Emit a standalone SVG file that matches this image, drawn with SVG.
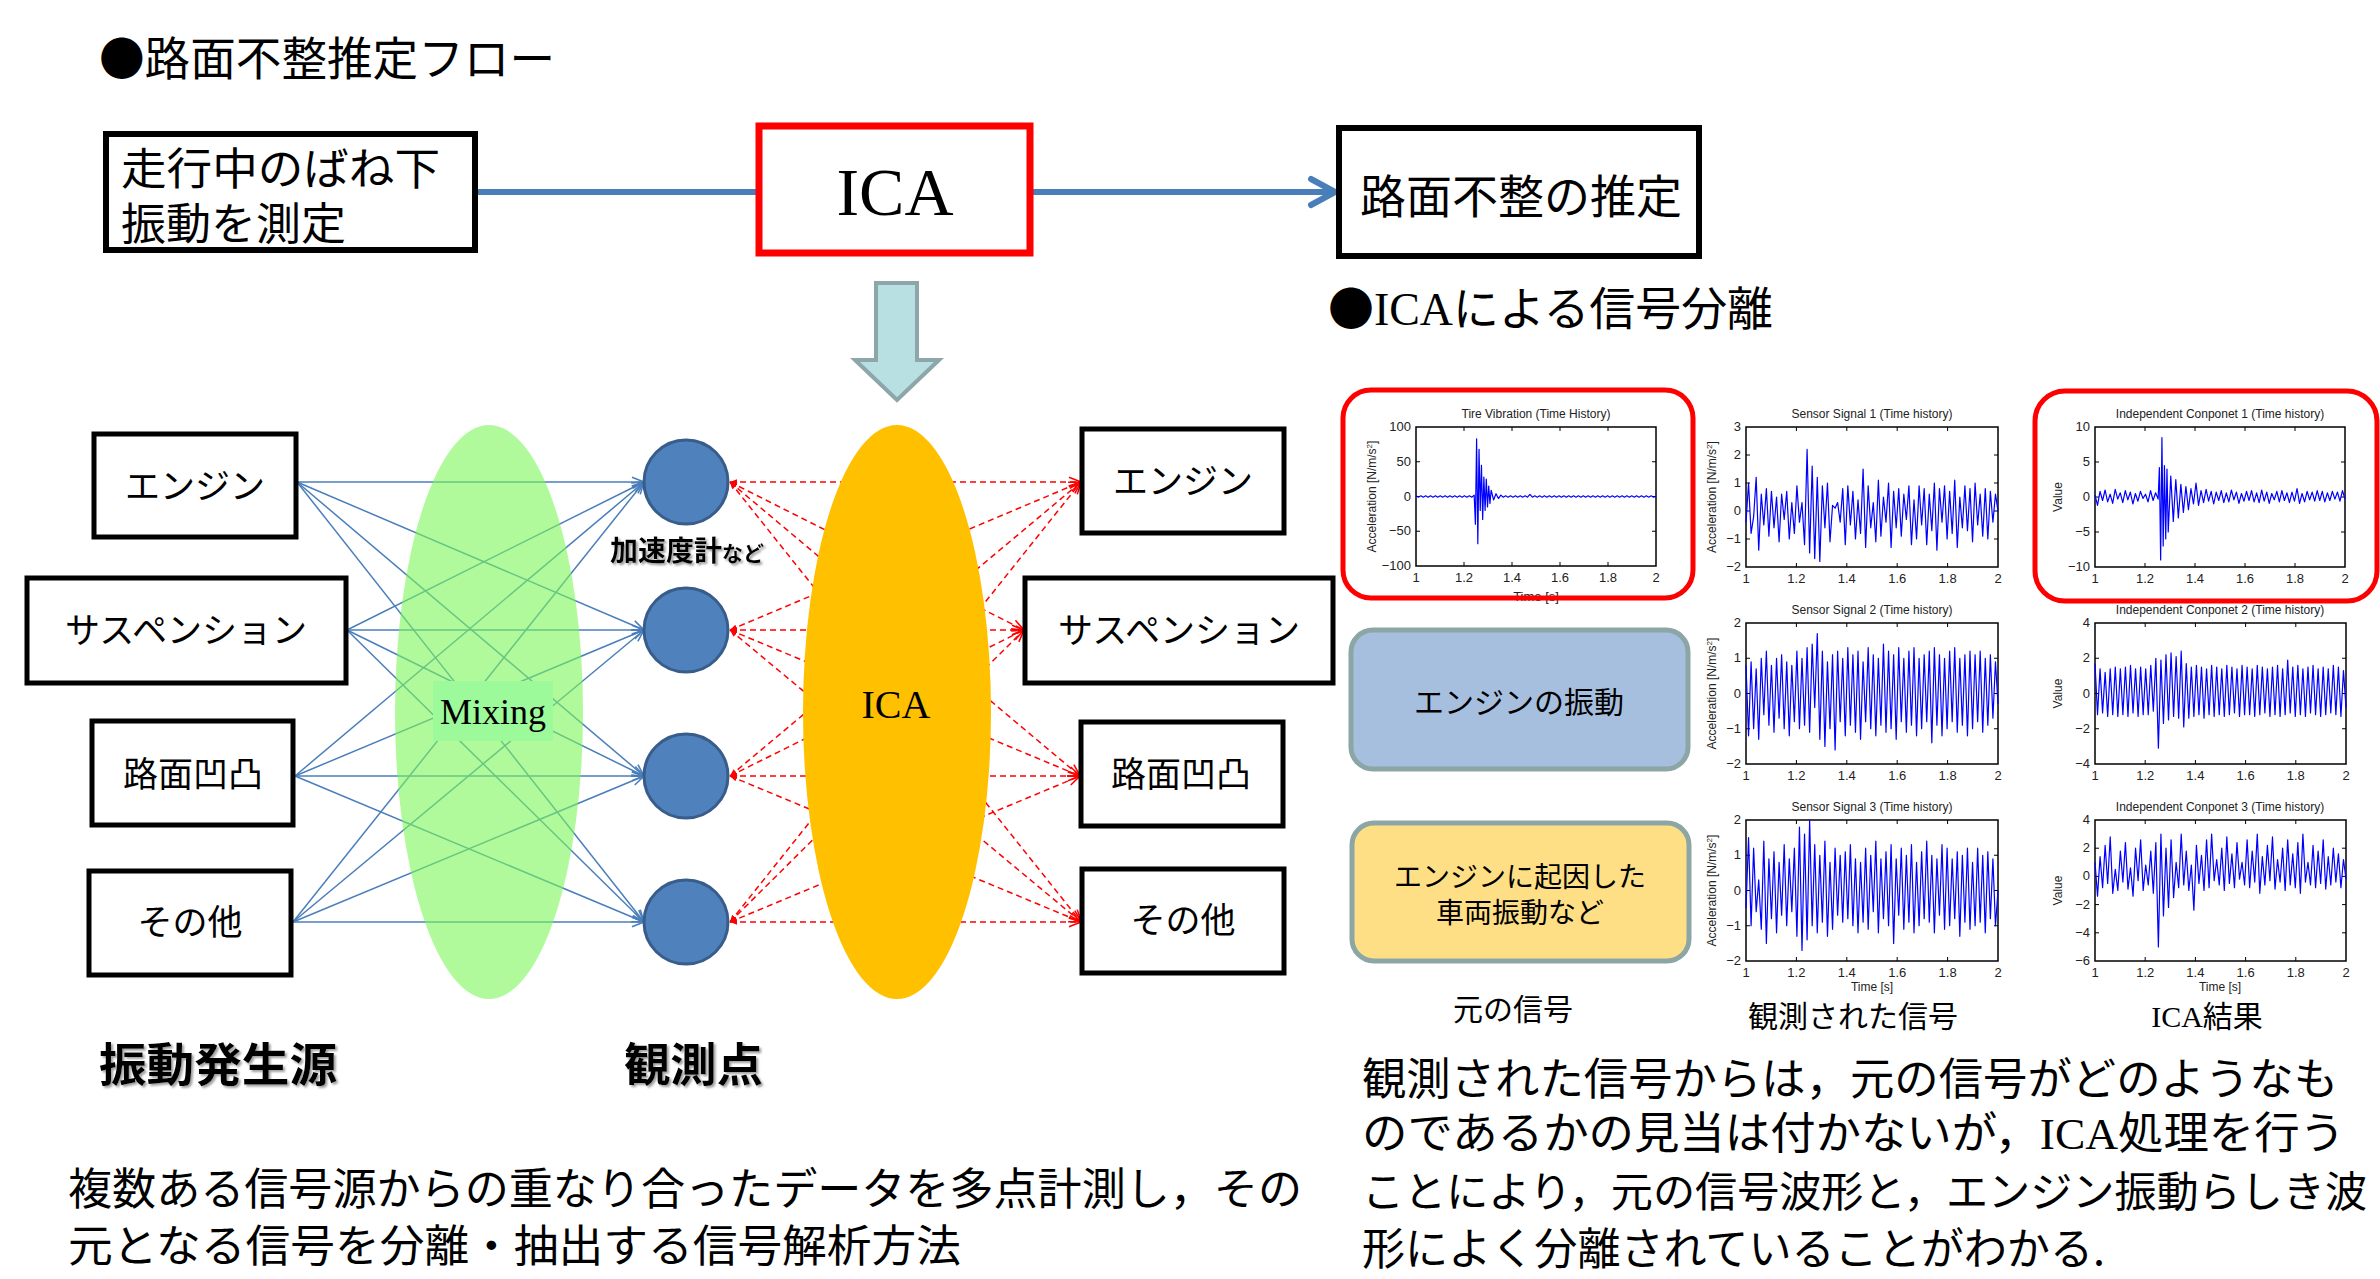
<svg xmlns="http://www.w3.org/2000/svg" width="2380" height="1279" viewBox="0 0 2380 1279">
<style>
.jp{font-family:"Noto Sans CJK JP","Noto Sans CJK SC",sans-serif;fill:#000}
.tm{font-family:"Liberation Serif",serif;fill:#000}
.pl{font-family:"Liberation Sans",sans-serif;font-size:12px;fill:#222}
.tl{font-size:13px}
.box{fill:#fff;stroke:#000;stroke-width:5}
.fbox{fill:#fff;stroke:#000;stroke-width:6}
.ax{fill:none;stroke:#000;stroke-width:1.5}
.tk{fill:none;stroke:#000;stroke-width:1}
.wv{fill:none;stroke:#0000FF;stroke-width:1.2;stroke-linejoin:round}
.bl{stroke:#4A7EBB;stroke-width:1.5;marker-end:url(#ab)}
.rd{stroke:#FF0000;stroke-width:1.5;stroke-dasharray:6 4;marker-end:url(#ar);marker-start:url(#rs)}
.mid{text-anchor:middle}
.end{text-anchor:end}
</style>
<defs>
<marker id="ab" viewBox="0 0 10 10" refX="10" refY="5" markerWidth="14" markerHeight="12" markerUnits="userSpaceOnUse" orient="auto"><path d="M0,1 L10,5 L0,9" fill="none" stroke="#4A7EBB" stroke-width="1.3"/></marker>
<marker id="ar" viewBox="0 0 10 10" refX="10" refY="5" markerWidth="14" markerHeight="12" markerUnits="userSpaceOnUse" orient="auto"><path d="M0,1 L10,5 L0,9" fill="none" stroke="#FF0000" stroke-width="1.3"/></marker>
<marker id="rs" viewBox="0 0 10 10" refX="10" refY="5" markerWidth="7" markerHeight="7" markerUnits="userSpaceOnUse" orient="auto-start-reverse"><path d="M0,1 L10,5 L0,9 z" fill="#FF0000"/></marker>
<filter id="sh" x="-10%" y="-20%" width="130%" height="150%"><feDropShadow dx="2" dy="2" stdDeviation="1.2" flood-color="#888" flood-opacity="0.8"/></filter>
</defs>
<rect width="2380" height="1279" fill="#fff"/>

<g id="title1"><text class="jp" x="99" y="75" font-size="46" textLength="456" lengthAdjust="spacingAndGlyphs">●路面不整推定フロー</text></g>

<g id="connectors">
<line x1="478" y1="192" x2="757" y2="192" stroke="#4A7EBB" stroke-width="6"/>
<line x1="1033" y1="192" x2="1333" y2="192" stroke="#4A7EBB" stroke-width="6"/>
<path d="M1311,179 L1335,192 L1311,205" fill="none" stroke="#4A7EBB" stroke-width="6" stroke-linecap="round" stroke-linejoin="round"/>
<g id="mix-lines">
<line class="bl" x1="297" y1="482" x2="644" y2="482"/><line class="bl" x1="297" y1="482" x2="644" y2="630"/><line class="bl" x1="297" y1="482" x2="644" y2="776"/><line class="bl" x1="297" y1="482" x2="644" y2="922"/>
<line class="bl" x1="347" y1="630" x2="644" y2="482"/><line class="bl" x1="347" y1="630" x2="644" y2="630"/><line class="bl" x1="347" y1="630" x2="644" y2="776"/><line class="bl" x1="347" y1="630" x2="644" y2="922"/>
<line class="bl" x1="295" y1="776" x2="644" y2="482"/><line class="bl" x1="295" y1="776" x2="644" y2="630"/><line class="bl" x1="295" y1="776" x2="644" y2="776"/><line class="bl" x1="295" y1="776" x2="644" y2="922"/>
<line class="bl" x1="293" y1="922" x2="644" y2="482"/><line class="bl" x1="293" y1="922" x2="644" y2="630"/><line class="bl" x1="293" y1="922" x2="644" y2="776"/><line class="bl" x1="293" y1="922" x2="644" y2="922"/>
</g>
<g id="ica-lines">
<line class="rd" x1="730" y1="482" x2="1081" y2="482"/><line class="rd" x1="730" y1="482" x2="1024" y2="630"/><line class="rd" x1="730" y1="482" x2="1080" y2="776"/><line class="rd" x1="730" y1="482" x2="1081" y2="922"/>
<line class="rd" x1="730" y1="630" x2="1081" y2="482"/><line class="rd" x1="730" y1="630" x2="1024" y2="630"/><line class="rd" x1="730" y1="630" x2="1080" y2="776"/><line class="rd" x1="730" y1="630" x2="1081" y2="922"/>
<line class="rd" x1="730" y1="776" x2="1081" y2="482"/><line class="rd" x1="730" y1="776" x2="1024" y2="630"/><line class="rd" x1="730" y1="776" x2="1080" y2="776"/><line class="rd" x1="730" y1="776" x2="1081" y2="922"/>
<line class="rd" x1="730" y1="922" x2="1081" y2="482"/><line class="rd" x1="730" y1="922" x2="1024" y2="630"/><line class="rd" x1="730" y1="922" x2="1080" y2="776"/><line class="rd" x1="730" y1="922" x2="1081" y2="922"/>
</g>
</g>

<g id="box-measure"><rect class="fbox" x="106" y="134" width="369" height="116"/>
<text class="jp" x="121" y="185" font-size="44" textLength="319" lengthAdjust="spacingAndGlyphs">走行中のばね下</text>
<text class="jp" x="121" y="240" font-size="44" textLength="225" lengthAdjust="spacingAndGlyphs">振動を測定</text></g>
<g id="box-ica"><rect x="759" y="126" width="271" height="127" fill="#fff" stroke="#FF0000" stroke-width="7"/>
<text class="tm mid" x="895" y="215" font-size="68">ICA</text></g>
<g id="box-estimate"><rect class="fbox" x="1339" y="128" width="360" height="128"/>
<text class="jp" x="1360" y="213" font-size="46" textLength="322" lengthAdjust="spacingAndGlyphs">路面不整の推定</text></g>
<g id="down-arrow"><path d="M876,283 H917 V360 H939 L897,400 L855,360 H876 Z" fill="#B8DFE2" stroke="#8CA6A9" stroke-width="4" stroke-linejoin="miter"/></g>

<g id="mixing"><ellipse cx="489" cy="712" rx="94" ry="287" fill="#7BF75A" fill-opacity="0.6"/>
<rect x="433" y="681" width="120" height="60" fill="#9CFA9A"/>
<text class="tm mid" x="493" y="724" font-size="36">Mixing</text></g>
<g id="ica-ellipse"><ellipse cx="897" cy="712" rx="94" ry="287" fill="#FFC000"/>
<text class="tm mid" x="896" y="718" font-size="40">ICA</text></g>

<g id="src-engine"><rect class="box" x="94" y="434" width="202" height="103"/><text class="jp mid" x="195" y="499" font-size="35">エンジン</text></g>
<g id="src-susp"><rect class="box" x="27" y="578" width="319" height="105"/><text class="jp mid" x="186" y="643" font-size="35">サスペンション</text></g>
<g id="src-road"><rect class="box" x="92" y="721" width="201" height="104"/><text class="jp mid" x="193" y="787" font-size="35">路面凹凸</text></g>
<g id="src-other"><rect class="box" x="89" y="871" width="202" height="104"/><text class="jp mid" x="190" y="935" font-size="35">その他</text></g>

<g id="sensors" fill="#4F81BD" stroke="#385D8A" stroke-width="3">
<circle cx="686" cy="482" r="42"/><circle cx="686" cy="630" r="42"/><circle cx="686" cy="776" r="42"/><circle cx="686" cy="922" r="42"/>
</g>
<g id="sensor-label" filter="url(#sh)"><text class="jp" x="610" y="561" font-weight="bold"><tspan font-size="28">加速度計</tspan><tspan font-size="21">など</tspan></text></g>

<g id="out-engine"><rect class="box" x="1082" y="429" width="202" height="104"/><text class="jp mid" x="1183" y="494" font-size="35">エンジン</text></g>
<g id="out-susp"><rect class="box" x="1025" y="578" width="308" height="105"/><text class="jp mid" x="1179" y="643" font-size="35">サスペンション</text></g>
<g id="out-road"><rect class="box" x="1081" y="722" width="202" height="104"/><text class="jp mid" x="1181" y="787" font-size="35">路面凹凸</text></g>
<g id="out-other"><rect class="box" x="1082" y="869" width="202" height="104"/><text class="jp mid" x="1183" y="933" font-size="35">その他</text></g>

<g id="labels-bottom" filter="url(#sh)">
<text class="jp" x="99" y="1081" font-size="46" font-weight="bold" textLength="238" lengthAdjust="spacingAndGlyphs">振動発生源</text>
<text class="jp" x="624" y="1081" font-size="46" font-weight="bold" textLength="139" lengthAdjust="spacingAndGlyphs">観測点</text>
</g>
<g id="desc-left">
<text class="jp" x="68" y="1205" font-size="44" textLength="1234" lengthAdjust="spacingAndGlyphs">複数ある信号源からの重なり合ったデータを多点計測し，その</text>
<text class="jp" x="68" y="1262" font-size="44" textLength="893" lengthAdjust="spacingAndGlyphs">元となる信号を分離・抽出する信号解析方法</text>
</g>

<g id="title2"><text class="jp" x="1328" y="325" font-size="46" textLength="445" lengthAdjust="spacingAndGlyphs">●<tspan class="tm">ICA</tspan>による信号分離</text></g>

<g id="plot-tire">
<text class="pl mid" x="1536" y="418">Tire Vibration (Time History)</text>
<rect class="ax" x="1416" y="427" width="240" height="139"/>
<path class="tk" d="M1464,427v4M1512,427v4M1560,427v4M1608,427v4M1464,566v-4M1512,566v-4M1560,566v-4M1608,566v-4M1416,461.75h4M1416,496.5h4M1416,531.25h4M1656,461.75h-4M1656,496.5h-4M1656,531.25h-4"/>
<g class="pl tl end"><text x="1411" y="431">100</text><text x="1411" y="466">50</text><text x="1411" y="501">0</text><text x="1411" y="535">−50</text><text x="1411" y="570">−100</text></g>
<g class="pl tl mid"><text x="1416" y="582">1</text><text x="1464" y="582">1.2</text><text x="1512" y="582">1.4</text><text x="1560" y="582">1.6</text><text x="1608" y="582">1.8</text><text x="1656" y="582">2</text><text x="1536" y="601">Time [s]</text></g>
<text class="pl mid" transform="translate(1376,496.5) rotate(-90)">Acceleration [N/m/s<tspan baseline-shift="super" font-size="8">2</tspan>]</text>
<path class="wv" vector-effect="non-scaling-stroke" transform="translate(1416,496.5) scale(2.4242,-0.695)" d="M0,1 L1,-1 2,1 3,-1 4,1 5,-1 6,1 7,-1 8,1 9,-1 10,1 11,-1 12,1 13,-1 14,1 15,-1 16,1 17,-1 18,1 19,-1 20,1 21,-1 22,1 23,-1 24,2 24.5,-40 25,83 25.5,-68 26,68 26.5,-20 27,45 27.5,-33 28,28 28.5,-20 29,25 29.5,-15 30,15 30.5,-10 31,9 32,-5 33,4 34,-3 35,2 36,-1 37,1 38,-1 39,1 40,-1 41,1 42,-1 43,1 44,-1 45,1 46,-1 47,3 48,-1 49,1 50,-1 51,1 52,-1 53,1 54,-1 55,1 56,-1 57,1 58,-1 59,1 60,-1 61,1 62,-1 63,1 64,-1 65,1 66,-1 67,1 68,-1 69,1 70,-1 71,1 72,-1 73,1 74,-1 75,1 76,-1 77,1 78,-1 79,1 80,-1 81,1 82,-1 83,1 84,-1 85,1 86,-1 87,1 88,-1 89,1 90,-1 91,1 92,-1 93,1 94,-1 95,1 96,-1 97,1 98,-1 99,0"/>
</g>

<g id="plot-s1">
<text class="pl mid" x="1872" y="418">Sensor Signal 1 (Time history)</text>
<rect class="ax" x="1746" y="427" width="252" height="140"/>
<path class="tk" d="M1796.4,427v4M1846.8,427v4M1897.2,427v4M1947.6,427v4M1796.4,567v-4M1846.8,567v-4M1897.2,567v-4M1947.6,567v-4M1746,455h4M1746,483h4M1746,511h4M1746,539h4M1998,455h-4M1998,483h-4M1998,511h-4M1998,539h-4"/>
<g class="pl tl end"><text x="1741" y="431">3</text><text x="1741" y="459">2</text><text x="1741" y="487">1</text><text x="1741" y="515">0</text><text x="1741" y="543">−1</text><text x="1741" y="571">−2</text></g>
<g class="pl tl mid"><text x="1746" y="583">1</text><text x="1796.4" y="583">1.2</text><text x="1846.8" y="583">1.4</text><text x="1897.2" y="583">1.6</text><text x="1947.6" y="583">1.8</text><text x="1998" y="583">2</text></g>
<text class="pl mid" transform="translate(1716,497) rotate(-90)">Acceleration [N/m/s<tspan baseline-shift="super" font-size="8">2</tspan>]</text>
<path class="wv" vector-effect="non-scaling-stroke" transform="translate(1746,511) scale(2.5455,-2.8)" d="M0,-4 L1,10 2,-8 3,-2 4,12 5,-14 6,6 7,-5 8,8 9,-9 10,7 11,-6 12,5 13,-11 14,6 15,-3 16,7 17,-10 18,3 19,-8 20,9 21,-4 22,3 23,-12 24,22 25,-15 26,16 27,-17 28,12 29,-18 30,9 31,-6 32,10 33,-11 34,2 35,1 36,3 37,-4 38,8 39,-12 40,9 41,-5 42,7 43,-10 44,4 45,-8 46,15 47,-13 48,9 49,-6 50,3 51,-11 52,11 53,-9 54,5 55,-4 56,10 57,-13 58,7 59,-6 60,8 61,-9 62,6 63,-3 64,9 65,-12 66,4 67,-10 68,9 69,-5 70,8 71,-12 72,6 73,-7 74,10 75,-14 76,8 77,-4 78,9 79,-10 80,7 81,-8 82,11 83,-13 84,5 85,-6 86,9 87,-7 88,8 89,-11 90,10 91,-5 92,6 93,-9 94,8 95,-10 96,7 97,-4 98,6 99,0"/>
</g>

<g id="plot-ic1">
<text class="pl mid" x="2220" y="418">Independent Conponet 1 (Time history)</text>
<rect class="ax" x="2095" y="427" width="250" height="140"/>
<path class="tk" d="M2145,427v4M2195,427v4M2245,427v4M2295,427v4M2145,567v-4M2195,567v-4M2245,567v-4M2295,567v-4M2095,462h4M2095,497h4M2095,532h4M2345,462h-4M2345,497h-4M2345,532h-4"/>
<g class="pl tl end"><text x="2090" y="431">10</text><text x="2090" y="466">5</text><text x="2090" y="501">0</text><text x="2090" y="536">−5</text><text x="2090" y="571">−10</text></g>
<g class="pl tl mid"><text x="2095" y="583">1</text><text x="2145" y="583">1.2</text><text x="2195" y="583">1.4</text><text x="2245" y="583">1.6</text><text x="2295" y="583">1.8</text><text x="2345" y="583">2</text></g>
<text class="pl mid" transform="translate(2062,497) rotate(-90)">Value</text>
<path class="wv" vector-effect="non-scaling-stroke" transform="translate(2095,497) scale(2.5253,-0.7)" d="M0,3 L1,-12 2,8 3,-5 4,10 5,-7 6,4 7,-9 8,11 9,-3 10,6 11,-8 12,9 13,-4 14,7 15,-10 16,5 17,-6 18,8 19,-2 20,4 21,-7 22,9 23,-5 24,6 25,-3 25.5,42 26,-90 26.5,85 27,-70 27.5,45 28,-60 28.5,40 29,-50 30,30 31,-35 32,25 33,-30 34,18 35,-22 36,15 37,-18 38,12 39,-10 40,20 41,-12 42,9 43,-8 44,11 45,-6 46,8 47,-10 48,7 49,-5 50,9 51,-8 52,6 53,-7 54,10 55,-4 56,7 57,-9 58,5 59,-6 60,8 61,-5 62,9 63,-7 64,6 65,-8 66,10 67,-6 68,7 69,-9 70,5 71,-4 72,8 73,-7 74,9 75,-5 76,6 77,-8 78,7 79,-6 80,12 81,-9 82,5 83,-7 84,8 85,-4 86,7 87,-6 88,9 89,-5 90,8 91,-7 92,6 93,-5 94,8 95,-3 96,7 97,-6 98,9 99,-3"/>
</g>

<g id="plot-s2">
<text class="pl mid" x="1872" y="614">Sensor Signal 2 (Time history)</text>
<rect class="ax" x="1746" y="623" width="252" height="141"/>
<path class="tk" d="M1796.4,623v4M1846.8,623v4M1897.2,623v4M1947.6,623v4M1796.4,764v-4M1846.8,764v-4M1897.2,764v-4M1947.6,764v-4M1746,658.25h4M1746,693.5h4M1746,728.75h4M1998,658.25h-4M1998,693.5h-4M1998,728.75h-4"/>
<g class="pl tl end"><text x="1741" y="627">2</text><text x="1741" y="662">1</text><text x="1741" y="698">0</text><text x="1741" y="733">−1</text><text x="1741" y="768">−2</text></g>
<g class="pl tl mid"><text x="1746" y="780">1</text><text x="1796.4" y="780">1.2</text><text x="1846.8" y="780">1.4</text><text x="1897.2" y="780">1.6</text><text x="1947.6" y="780">1.8</text><text x="1998" y="780">2</text></g>
<text class="pl mid" transform="translate(1716,693.5) rotate(-90)">Acceleration [N/m/s<tspan baseline-shift="super" font-size="8">2</tspan>]</text>
<path class="wv" vector-effect="non-scaling-stroke" transform="translate(1746,693.5) scale(2.5455,-3.525)" d="M0,8 L1,-12 2,9 3,-10 4,7 5,-13 6,10 7,-6 8,12 9,-9 10,8 11,-11 12,10 13,-7 14,11 15,-10 16,9 17,-12 18,8 19,-8 20,12 21,-10 22,10 23,-9 24,13 25,-11 26,14 27,-4 28,17 29,-13 30,12 31,-15 32,9 33,-10 34,11 35,-16 36,12 37,-8 38,10 39,-12 40,13 41,-9 42,11 43,-11 44,12 45,-13 46,9 47,-8 48,13 49,-10 50,11 51,-12 52,10 53,-9 54,14 55,-11 56,12 57,-10 58,11 59,-13 60,13 61,-8 62,10 63,-11 64,12 65,-9 66,13 67,-12 68,10 69,-10 70,11 71,-8 72,12 73,-14 74,13 75,-9 76,11 77,-12 78,10 79,-10 80,12 81,-8 82,13 83,-11 84,10 85,-9 86,11 87,-12 88,12 89,-10 90,11 91,-8 92,12 93,-11 94,10 95,-9 96,11 97,-7 98,9 99,-3"/>
</g>

<g id="plot-ic2">
<text class="pl mid" x="2220" y="614">Independent Conponet 2 (Time history)</text>
<rect class="ax" x="2095" y="623" width="251" height="141"/>
<path class="tk" d="M2145.2,623v4M2195.4,623v4M2245.6,623v4M2295.8,623v4M2145.2,764v-4M2195.4,764v-4M2245.6,764v-4M2295.8,764v-4M2095,658.25h4M2095,693.5h4M2095,728.75h4M2346,658.25h-4M2346,693.5h-4M2346,728.75h-4"/>
<g class="pl tl end"><text x="2090" y="627">4</text><text x="2090" y="662">2</text><text x="2090" y="698">0</text><text x="2090" y="733">−2</text><text x="2090" y="768">−4</text></g>
<g class="pl tl mid"><text x="2095" y="780">1</text><text x="2145.2" y="780">1.2</text><text x="2195.4" y="780">1.4</text><text x="2245.6" y="780">1.6</text><text x="2295.8" y="780">1.8</text><text x="2346" y="780">2</text></g>
<text class="pl mid" transform="translate(2062,693.5) rotate(-90)">Value</text>
<path class="wv" vector-effect="non-scaling-stroke" transform="translate(2095,693.5) scale(2.5354,-1.7625)" d="M0,17 L1,-12 2,14 3,-11 4,12 5,-13 6,14 7,-12 8,15 9,-13 10,14 11,-12 12,15 13,-13 14,16 15,-11 16,14 17,-13 18,15 19,-12 20,14 21,-12 22,16 23,-10 24,20 25,-31 26,19 27,-17 28,22 29,-15 30,23 31,-13 32,21 33,-14 34,24 35,-19 36,17 37,-14 38,15 39,-13 40,16 41,-12 42,15 43,-14 44,14 45,-12 46,16 47,-13 48,15 49,-12 50,14 51,-13 52,16 53,-12 54,15 55,-11 56,14 57,-13 58,16 59,-12 60,15 61,-12 62,14 63,-13 64,16 65,-12 66,15 67,-11 68,14 69,-13 70,15 71,-12 72,16 73,-13 74,14 75,-12 76,19 77,-11 78,15 79,-13 80,16 81,-12 82,14 83,-13 84,15 85,-11 86,16 87,-12 88,14 89,-13 90,15 91,-12 92,14 93,-11 94,16 95,-12 96,15 97,-13 98,13 99,-8"/>
</g>

<g id="plot-s3">
<text class="pl mid" x="1872" y="811">Sensor Signal 3 (Time history)</text>
<rect class="ax" x="1746" y="820" width="252" height="141"/>
<path class="tk" d="M1796.4,820v4M1846.8,820v4M1897.2,820v4M1947.6,820v4M1796.4,961v-4M1846.8,961v-4M1897.2,961v-4M1947.6,961v-4M1746,855.25h4M1746,890.5h4M1746,925.75h4M1998,855.25h-4M1998,890.5h-4M1998,925.75h-4"/>
<g class="pl tl end"><text x="1741" y="824">2</text><text x="1741" y="859">1</text><text x="1741" y="895">0</text><text x="1741" y="930">−1</text><text x="1741" y="965">−2</text></g>
<g class="pl tl mid"><text x="1746" y="977">1</text><text x="1796.4" y="977">1.2</text><text x="1846.8" y="977">1.4</text><text x="1897.2" y="977">1.6</text><text x="1947.6" y="977">1.8</text><text x="1998" y="977">2</text></g>
<text class="pl mid" x="1872" y="991">Time [s]</text>
<text class="pl mid" transform="translate(1716,890.5) rotate(-90)">Acceleration [N/m/s<tspan baseline-shift="super" font-size="8">2</tspan>]</text>
<path class="wv" vector-effect="non-scaling-stroke" transform="translate(1746,890.5) scale(2.5455,-3.525)" d="M0,-5 L1,15 2,-10 3,12 4,-6 5,3 6,-11 7,14 8,-15 9,9 10,-8 11,11 12,-12 13,8 14,-7 15,13 16,-10 17,9 18,-6 19,12 20,-13 21,18 22,-17 23,16 24,-14 25,20 26,-10 27,13 28,-12 29,10 30,-9 31,14 32,-13 33,8 34,-11 35,12 36,-7 37,10 38,-9 39,11 40,-8 41,13 42,-10 43,9 44,-12 45,8 46,-9 47,12 48,-11 49,10 50,-6 51,14 52,-12 53,9 54,-8 55,11 56,-10 57,13 58,-15 59,9 60,-7 61,12 62,-11 63,10 64,-9 65,13 66,-12 67,8 68,-10 69,11 70,-8 71,14 72,-9 73,10 74,-12 75,9 76,-7 77,13 78,-11 79,12 80,-10 81,9 82,-8 83,11 84,-13 85,10 86,-9 87,12 88,-11 89,8 90,-10 91,12 92,-9 93,10 94,-12 95,11 96,-8 97,9 98,-10 99,0"/>
</g>

<g id="plot-ic3">
<text class="pl mid" x="2220" y="811">Independent Conponet 3 (Time history)</text>
<rect class="ax" x="2095" y="820" width="251" height="141"/>
<path class="tk" d="M2145.2,820v4M2195.4,820v4M2245.6,820v4M2295.8,820v4M2145.2,961v-4M2195.4,961v-4M2245.6,961v-4M2295.8,961v-4M2095,848.2h4M2095,876.4h4M2095,904.6h4M2095,932.8h4M2346,848.2h-4M2346,876.4h-4M2346,904.6h-4M2346,932.8h-4"/>
<g class="pl tl end"><text x="2090" y="824">4</text><text x="2090" y="852">2</text><text x="2090" y="880">0</text><text x="2090" y="909">−2</text><text x="2090" y="937">−4</text><text x="2090" y="965">−6</text></g>
<g class="pl tl mid"><text x="2095" y="977">1</text><text x="2145.2" y="977">1.2</text><text x="2195.4" y="977">1.4</text><text x="2245.6" y="977">1.6</text><text x="2295.8" y="977">1.8</text><text x="2346" y="977">2</text></g>
<text class="pl mid" x="2220" y="991">Time [s]</text>
<text class="pl mid" transform="translate(2062,890.5) rotate(-90)">Value</text>
<path class="wv" vector-effect="non-scaling-stroke" transform="translate(2095,876.4) scale(2.5354,-1.41)" d="M0,10 L1,-14 2,14 3,-8 4,22 5,-5 6,28 7,-12 8,5 9,-10 10,18 11,-4 12,24 13,-9 14,6 15,-14 16,20 17,-3 18,26 19,-10 20,8 21,-6 22,18 23,-12 24,24 25,-50 26,30 27,-28 28,20 29,-22 30,26 31,-15 32,10 33,-8 34,30 35,-6 36,18 37,-10 38,8 39,-24 40,22 41,-5 42,15 43,-10 44,26 45,-8 46,30 47,-3 48,12 49,-6 50,20 51,-10 52,28 53,-5 54,16 55,-8 56,24 57,-2 58,10 59,-6 60,26 61,-8 62,18 63,-4 64,30 65,-12 66,14 67,-6 68,22 69,-3 70,28 71,-9 72,12 73,-4 74,20 75,-10 76,26 77,-6 78,16 79,-8 80,24 81,-12 82,30 83,-4 84,10 85,-6 86,22 87,-8 88,18 89,-5 90,26 91,-9 92,14 93,-6 94,20 95,-4 96,16 97,-8 98,12 99,-2"/>
</g>

<g id="frame-tire"><rect x="1343" y="390" width="350" height="208" rx="28" fill="none" stroke="#FF0000" stroke-width="5"/></g>
<g id="frame-ic1"><rect x="2035" y="391" width="342" height="210" rx="30" fill="none" stroke="#FF0000" stroke-width="5"/></g>

<g id="box-engine-vib"><rect x="1351" y="630" width="337" height="139" rx="22" fill="#A7BFDE" stroke="#8CA6A5" stroke-width="5"/>
<text class="jp mid" x="1519" y="713" font-size="30">エンジンの振動</text></g>
<g id="box-vehicle-vib"><rect x="1352" y="823" width="337" height="138" rx="22" fill="#FFDF85" stroke="#8CA6A5" stroke-width="5"/>
<text class="jp mid" x="1520" y="887" font-size="28">エンジンに起因した</text>
<text class="jp mid" x="1520" y="923" font-size="28">車両振動など</text></g>

<g id="column-labels">
<text class="jp mid" x="1513" y="1020" font-size="30">元の信号</text>
<text class="jp mid" x="1853" y="1027" font-size="30">観測された信号</text>
<text class="jp mid" x="2207" y="1027" font-size="30"><tspan class="tm">ICA</tspan>結果</text>
</g>

<g id="desc-right">
<text class="jp" x="1362" y="1095" font-size="44" textLength="976" lengthAdjust="spacingAndGlyphs">観測された信号からは，元の信号がどのようなも</text>
<text class="jp" x="1362" y="1149" font-size="44" textLength="983" lengthAdjust="spacingAndGlyphs">のであるかの見当は付かないが，<tspan class="tm">ICA</tspan>処理を行う</text>
<text class="jp" x="1362" y="1207" font-size="42" textLength="1005" lengthAdjust="spacingAndGlyphs">ことにより，元の信号波形と，エンジン振動らしき波</text>
<text class="jp" x="1362" y="1265" font-size="44" textLength="743" lengthAdjust="spacingAndGlyphs">形によく分離されていることがわかる.</text>
</g>
</svg>
